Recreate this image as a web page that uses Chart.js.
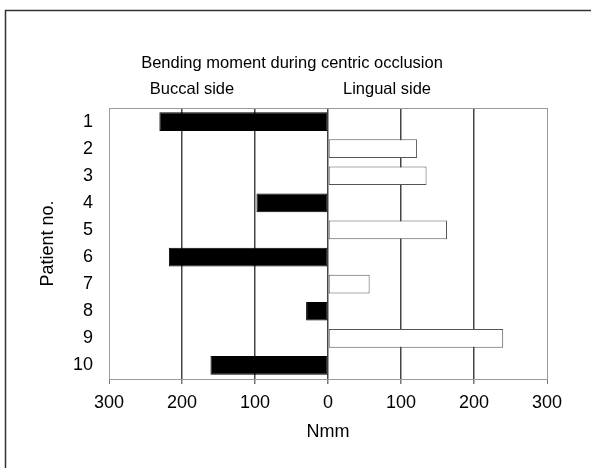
<!DOCTYPE html>
<html>
<head>
<meta charset="utf-8">
<script src="https://cdn.jsdelivr.net/npm/chart.js@4"></script>
<style>
  body { margin: 0; background: #fff; }
  canvas { display: block; }
</style>
</head>
<body>
<canvas id="myChart" width="591" height="468"></canvas>
<script>

// data (negative = buccal side, positive = lingual side)
var patients = ['1', '2', '3', '4', '5', '6', '7', '8', '9', '10'];
var moments = [-231, 122, 135, -98, 163, -218, 57, -30, 240, -161];
var xTicks = [-300, -200, -100, 0, 100, 200, 300];

var titleText = 'Bending moment during centric occlusion';
var buccalText = 'Buccal side';
var lingualText = 'Lingual side';

var FONT = '"Liberation Sans", Arial, sans-serif';

// frame, plot box and the three header texts
const decor = {
	id: 'decor',
	beforeDatasetsDraw(chart){
		const ctx = chart.ctx;
		const a = chart.chartArea;
		ctx.save();
		ctx.strokeStyle = '#9a9a9a';
		ctx.lineWidth = 1;
		ctx.beginPath();
		ctx.moveTo(a.left, a.top + 0.5);
		ctx.lineTo(a.right, a.top + 0.5);
		ctx.stroke();
		ctx.restore();
	},
	afterDraw(chart){
		const ctx = chart.ctx;
		ctx.save();
		// outer frame (top and left edges visible)
		ctx.strokeStyle = '#333';
		ctx.lineWidth = 1.5;
		ctx.beginPath();
		ctx.moveTo(5.5, chart.height);
		ctx.lineTo(5.5, 10.5);
		ctx.lineTo(chart.width, 10.5);
		ctx.stroke();

		ctx.fillStyle = '#000';
		ctx.font = '16.5px ' + FONT;
		ctx.textAlign = 'center';
		ctx.textBaseline = 'middle';
		ctx.fillText(titleText, 292, 63);
		ctx.fillText(buccalText, 192, 89);
		ctx.fillText(lingualText, 387, 89);
		ctx.restore();
	}
};

const ctx = document.getElementById('myChart').getContext('2d');
const chart = new Chart(ctx, {
	type: 'bar',
	data: {
		labels: patients,
		datasets: [{
			data: moments,
			backgroundColor: moments.map(function(v){ return v < 0 ? '#000' : '#fff'; }),
			borderColor: moments.map(function(v){ return v < 0 ? '#000' : '#555'; }),
			borderWidth: 1,
			borderSkipped: false,
			barPercentage: 0.69,
			categoryPercentage: 1
		}]
	},
	options: {
		indexAxis: 'y',
		responsive: false,
		animation: false,
		layout: {
			padding: { top: 108, left: 37, right: 44, bottom: 25 }
		},
		plugins: {
			legend: { display: false },
			tooltip: { enabled: false }
		},
		scales: {
			x: {
				min: -300,
				max: 300,
				afterBuildTicks(scale){
					scale.ticks = xTicks.map(function(v){ return { value: v }; });
				},
				afterFit(scale){
					scale.height = 64;
				},
				ticks: {
					color: '#000',
					font: { family: FONT, size: 18 },
					padding: 8,
					maxRotation: 0,
					callback: function(v){ return Math.abs(v); }
				},
				grid: {
					color: function(c){
						return Math.abs(c.tick.value) === 300 ? '#9a9a9a' : '#444';
					},
					lineWidth: function(c){
						return Math.abs(c.tick.value) === 300 ? 1 : 1.5;
					},
					tickColor: '#777',
					tickLength: 5,
					drawTicks: true
				},
				border: { display: true, color: '#9a9a9a', width: 1 },
				title: {
					display: true,
					text: 'Nmm',
					color: '#000',
					font: { family: FONT, size: 18 },
					padding: { top: 0, bottom: 0 }
				}
			},
			y: {
				afterFit(scale){
					scale.width = 72;
				},
				ticks: {
					color: '#000',
					font: { family: FONT, size: 18 },
					padding: 16
				},
				grid: { display: false, drawTicks: false },
				border: { display: false },
				title: {
					display: true,
					text: 'Patient no.',
					color: '#000',
					font: { family: FONT, size: 18 },
					padding: { top: 0, bottom: 0 }
				}
			}
		}
	},
	plugins: [decor]
});

</script>
</body>
</html>
